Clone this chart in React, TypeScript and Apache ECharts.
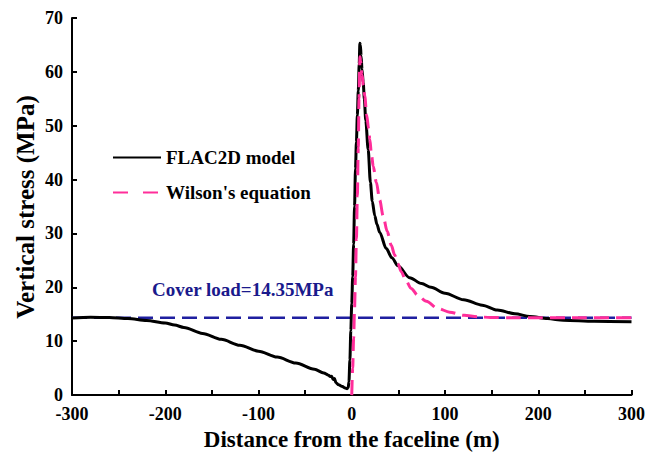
import React, { useEffect, useRef } from "react";
import * as echarts from "echarts";

// FLAC2D model (black solid)
const flacX = [-300, -280, -260, -240, -220, -200, -190, -180, -160, -140, -120, -100, -80, -60, -40, -30, -25, -23, -21.5, -20, -18.5, -17, -14, -10, -7, -5, -3.8, -3, -2, -1, 0, 1, 2, 3, 4, 5, 6, 7, 8, 8.7, 9.3, 10, 11, 12.3, 13.5, 15, 17.6, 20, 22, 24.7, 27, 30, 37, 43, 49.6, 62, 75, 85, 100, 120, 140, 156, 175, 191, 210, 227, 260, 300];
const flacY = [14.3, 14.45, 14.4, 14.2, 13.85, 13.4, 13.0, 12.55, 11.45, 10.35, 9.25, 8.15, 7.05, 5.95, 4.8, 4.1, 3.7, 3.45, 3.5, 2.9, 3.1, 2.3, 1.9, 1.6, 1.3, 1.2, 1.4, 2.5, 6.5, 12, 17, 22, 28, 35, 42, 47, 52, 56.5, 61.5, 65.3, 65, 63, 60.5, 58, 55, 51, 45.6, 39.5, 36, 33.3, 31.7, 30.2, 27.2, 25.5, 24.0, 21.8, 20.7, 20.0, 18.9, 17.7, 16.7, 15.8, 15.1, 14.6, 14.2, 13.9, 13.7, 13.6];

// Wilson's equation (pink dashed)
const wilsonX = [0, 1, 2, 3, 4, 5, 6, 7, 7.8, 8.4, 8.8, 9.5, 11, 12.5, 14, 16, 18, 19.4, 21.1, 23, 26.4, 30, 33.6, 38, 42.4, 46, 49.6, 53, 58, 63.7, 70.9, 80, 92.2, 105, 120.6, 135, 148.7, 175, 200, 250, 300];
const wilsonY = [0, 5, 10.5, 16, 22, 29, 37, 46, 55, 60, 62.8, 62, 59.5, 57.5, 55.5, 52, 49.5, 47.5, 44.7, 42.5, 39.5, 36.2, 33.3, 30.4, 27.8, 26, 24.4, 22.9, 21.3, 19.8, 18.5, 17.4, 16.1, 15.4, 14.8, 14.55, 14.4, 14.36, 14.35, 14.35, 14.35];

// Cover load line
const coverX = [-300, 300];
const coverLoad = 14.35;

const xTicks = { min: -300, max: 300, step: 50 };
const yTicks = { min: 0, max: 70, step: 10 };

const FONT = "Liberation Serif";

export default function App() {
  const ref = useRef<HTMLDivElement>(null);
  useEffect(() => {
    if (!ref.current) return;
    const chart = echarts.init(ref.current, null, { renderer: "svg" });
    const axisText = { fontFamily: FONT, fontWeight: "bold" as const, color: "#000", fontSize: 18 };
    chart.setOption({
      animation: false,
      backgroundColor: "#fff",
      grid: { left: 72, right: 13, top: 18, bottom: 59, containLabel: false },
      legend: {
        orient: "vertical",
        left: 107,
        top: 143,
        itemWidth: 48,
        itemHeight: 14,
        itemGap: 16,
        textStyle: { fontFamily: FONT, fontWeight: "bold", fontSize: 19, color: "#000" },
        data: [
          { name: "FLAC2D model", itemStyle: { opacity: 0 } },
          { name: "Wilson's equation", itemStyle: { opacity: 0 }, lineStyle: { type: [15, 15] } },
        ],
      },
      xAxis: {
        type: "value",
        min: xTicks.min,
        max: xTicks.max,
        interval: xTicks.step,
        name: "Distance from the faceline (m)",
        nameLocation: "middle",
        nameGap: 30,
        nameTextStyle: { fontFamily: FONT, fontWeight: "bold", fontSize: 23, color: "#000" },
        axisLine: { show: true, onZero: false, lineStyle: { color: "#000", width: 2 } },
        axisTick: { show: true, inside: true, length: 5, lineStyle: { color: "#000", width: 2 } },
        axisLabel: {
          ...axisText,
          margin: 10,
          formatter: (v: number) => (v % 100 === 0 ? String(v) : ""),
        },
        splitLine: { show: false },
      },
      yAxis: {
        type: "value",
        min: yTicks.min,
        max: yTicks.max,
        interval: yTicks.step,
        axisLine: { show: true, onZero: false, lineStyle: { color: "#000", width: 2 } },
        axisTick: { show: true, inside: true, length: 5, lineStyle: { color: "#000", width: 2 } },
        axisLabel: { ...axisText, margin: 9 },
        splitLine: { show: false },
      },
      graphic: [
        {
          type: "text",
          x: 25,
          y: 207,
          rotation: Math.PI / 2,
          style: {
            text: "Vertical stress (MPa)",
            fontFamily: FONT,
            fontWeight: "bold",
            fontSize: 25,
            fill: "#000",
            align: "center",
            verticalAlign: "middle",
          },
        },
        {
          type: "text",
          left: 152,
          top: 280,
          style: {
            text: "Cover load=14.35MPa",
            fontFamily: FONT,
            fontWeight: "bold",
            fontSize: 19,
            fill: "#1a1a8c",
          },
        },
      ],
      series: [
        {
          name: "Cover load",
          type: "line",
          data: coverX.map((x) => [x, coverLoad]),
          symbol: "none",
          lineStyle: { color: "#1f1fa0", width: 2.5, type: [15, 7] },
          itemStyle: { color: "#1f1fa0" },
          z: 1,
        },
        {
          name: "FLAC2D model",
          type: "line",
          data: flacX.map((x, i) => [x, flacY[i]]),
          symbol: "none",
          smooth: 0.3,
          smoothMonotone: "x",
          lineStyle: { color: "#000", width: 3 },
          itemStyle: { color: "#000" },
          z: 2,
        },
        {
          name: "Wilson's equation",
          type: "line",
          data: wilsonX.map((x, i) => [x, wilsonY[i]]),
          symbol: "none",
          smooth: 0.3,
          smoothMonotone: "x",
          lineStyle: { color: "#ff2e9a", width: 3, type: [15, 7] },
          itemStyle: { color: "#ff2e9a" },
          z: 3,
        },
      ],
    });
    return () => chart.dispose();
  }, []);
  return (
    <div
      ref={ref}
      style={{ position: "fixed", left: 0, top: 0, width: 648, height: 456, background: "#fff" }}
    />
  );
}
